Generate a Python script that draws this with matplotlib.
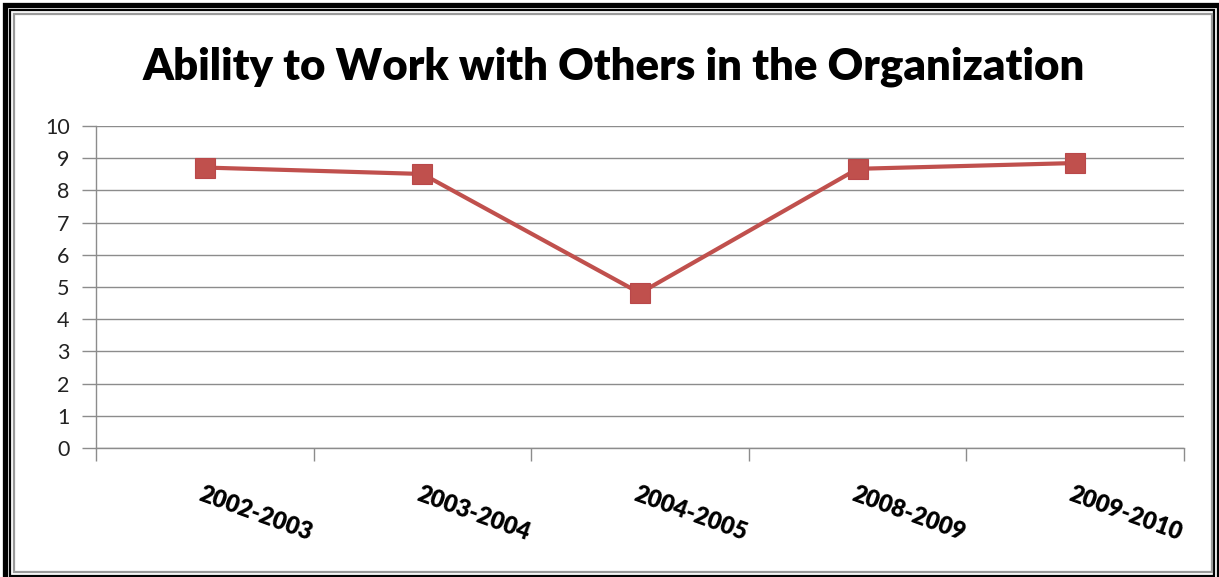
import matplotlib
matplotlib.use("Agg")
import matplotlib.pyplot as plt
from matplotlib.patches import Rectangle

# Chart data
periods = ["2002-2003", "2003-2004", "2004-2005", "2008-2009", "2009-2010"]
scores = [8.71, 8.51, 4.81, 8.67, 8.85]
y_ticks = [0, 1, 2, 3, 4, 5, 6, 7, 8, 9, 10]

W, H = 1219, 577
fig = plt.figure(figsize=(W / 100, H / 100), dpi=100)
fig.patch.set_facecolor("white")

LINE_RED = "#C0504D"
GRID = "#8C8C8C"

ax = fig.add_axes([96 / W, 1 - 448 / H, (1184 - 96) / W, (448 - 126) / H])
x = list(range(len(periods)))
ax.plot(x, scores, color=LINE_RED, lw=3.0, marker="s", markersize=14,
        markerfacecolor=LINE_RED, markeredgecolor="#B9484A", markeredgewidth=0.8,
        zorder=3, solid_joinstyle="round")

ax.set_xlim(-0.5, len(periods) - 0.5)
ax.set_ylim(0, 10)
ax.set_yticks(y_ticks)
ax.set_yticklabels([str(v) for v in y_ticks], fontfamily="Lato", fontsize=15.5,
                   color="#222222")
ax.yaxis.grid(True, color=GRID, lw=1.0)
ax.set_axisbelow(True)
ax.tick_params(axis="y", length=10, width=1.0, color=GRID, pad=9)

# category boundaries carry the tick marks, labels sit on the centres
ax.set_xticks([i - 0.5 for i in range(len(periods) + 1)], minor=True)
ax.set_xticks(x)
ax.set_xticklabels([])
ax.tick_params(axis="x", which="major", length=0)
ax.tick_params(axis="x", which="minor", length=9, width=1.0, color=GRID)
for i, lab in enumerate(periods):
    ax.annotate(lab, xy=(i, 0), xycoords="data", xytext=(-1, -25),
                textcoords="offset points", ha="left", va="top", rotation=-20,
                rotation_mode="anchor", fontfamily="Lato", fontweight="heavy",
                fontsize=17, color="black", annotation_clip=False)

for side in ("top", "right"):
    ax.spines[side].set_visible(False)
for side in ("left", "bottom"):
    ax.spines[side].set_color(GRID)
    ax.spines[side].set_linewidth(1.0)

fig.text(614 / W, 1 - 67 / H, "Ability to Work with Others in the Organization",
         ha="center", va="center", fontfamily="Lato", fontweight="heavy",
         fontsize=31.5, color="black")

# layered frame around the chart
def frame(x0, y0, x1, y1, color, lw):
    fig.patches.append(Rectangle((x0 / W, 1 - y1 / H), (x1 - x0) / W, (y1 - y0) / H,
                                 transform=fig.transFigure, fill=False,
                                 edgecolor=color, linewidth=lw, zorder=10))

frame(4.5, 4.5, 1218.5, 581, "black", 3.8)
frame(10, 10, 1214, 576, "black", 1.6)
frame(14, 14, 1212, 572, "#9A9A9A", 1.6)

fig.savefig("out.png", dpi=100, facecolor="white")
